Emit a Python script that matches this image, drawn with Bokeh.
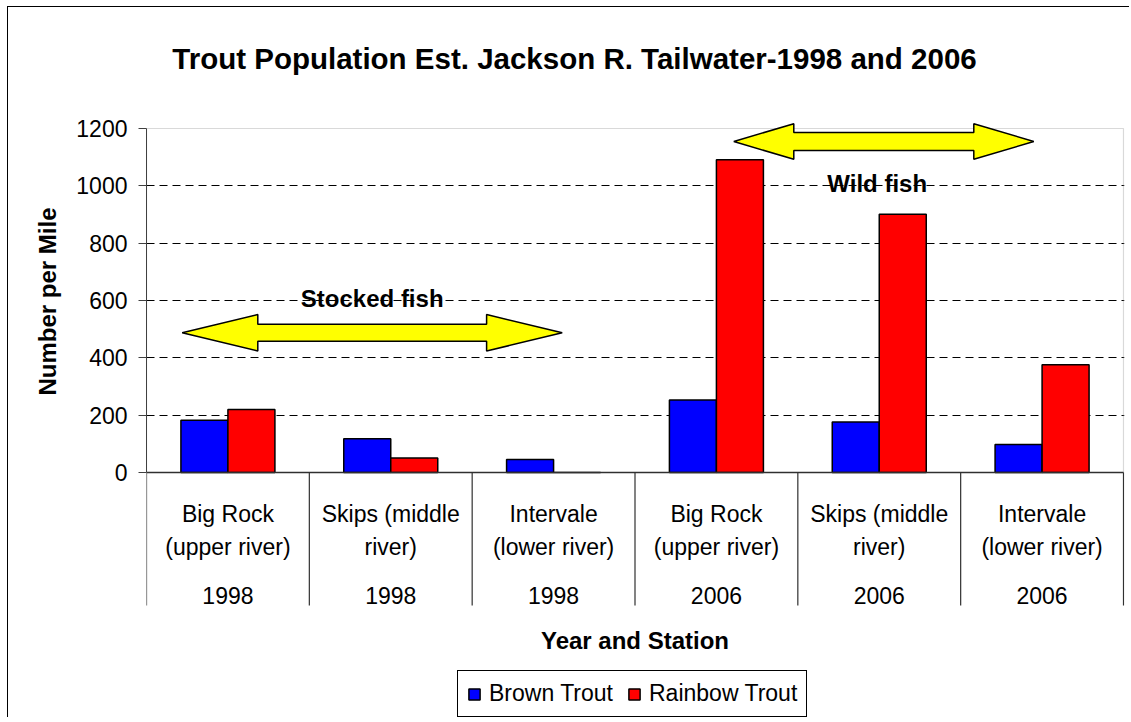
from bokeh.plotting import figure
from bokeh.models import Range1d, FixedTicker, BoxAnnotation, Legend, LegendItem, ColumnDataSource
from bokeh.core.properties import value
from bokeh.embed import file_html
from bokeh.resources import INLINE

# ---- data -------------------------------------------------------------
station_line1 = ["Big Rock", "Skips (middle", "Intervale", "Big Rock", "Skips (middle", "Intervale"]
station_line2 = ["(upper river)", "river)", "(lower river)", "(upper river)", "river)", "(lower river)"]
years = ["1998", "1998", "1998", "2006", "2006", "2006"]
brown_trout = [182, 118, 45, 253, 176, 98]
rainbow_trout = [220, 51, 0, 1091, 901, 376]
y_ticks = [0, 200, 400, 600, 800, 1000, 1200]
grid_ticks = [200, 400, 600, 800, 1000]
y_max = 1200

# ---- page geometry (pixels) ------------------------------------------
W, H = 1131, 722            # page size
OX, OY = 8, 7               # chart canvas starts inside the outer frame line
CANVAS_R, CANVAS_B = 1130, 718
PLOT_L, PLOT_R, PLOT_T, PLOT_B = 146, 1123, 128, 472
FRAME_R = 1124
n_cat = len(years)
x_px = (PLOT_R - PLOT_L) / n_cat      # pixels per category
y_px = (PLOT_B - PLOT_T) / y_max      # pixels per fish/mile


def X(px):
    return (px - PLOT_L) / x_px


def Y(py):
    return (PLOT_B - py) / y_px


FONT = value("Liberation Sans")

p = figure(
    width=CANVAS_R - OX, height=CANVAS_B - OY,
    x_range=Range1d(0, X(FRAME_R)),
    y_range=Range1d(Y(CANVAS_B), Y(OY)),
    x_axis_type=None,
    output_backend="svg", toolbar_location=None,
    min_border_left=PLOT_L - OX, min_border_right=CANVAS_R - FRAME_R,
    min_border_top=0, min_border_bottom=0,
    outline_line_color=None,
    background_fill_color="white", border_fill_color="white",
)
# outer chart frame line along the top and left edges
p.styles = {
    "vertical-align": "top",
    "margin-left": f"{OX}px", "margin-top": f"{OY}px",
    "box-shadow": "-1px -1px 0 0 black",
}
p.xgrid.visible = False

# ---- y axis ----------------------------------------------------------
ax = p.yaxis[0]
ax.bounds = (0, y_max)
ax.ticker = FixedTicker(ticks=y_ticks)
ax.minor_tick_line_color = None
ax.major_tick_in = 0
ax.major_tick_out = 8
ax.major_tick_line_color = "#404040"
ax.axis_line_color = "#404040"
ax.major_label_standoff = 11
ax.major_label_text_font = "Liberation Sans"
ax.major_label_text_font_size = "23px"
ax.major_label_text_color = "black"

# y axis title, placed along the 0..1200 span rather than the whole frame
p.title_location = "left"
p.title.text = "Number per Mile"
p.title.align = "left"
p.title.text_font = "Liberation Sans"
p.title.text_font_style = "bold"
p.title.text_font_size = "24px"
p.title.text_color = "black"
p.title.standoff = 26
p.title.offset = CANVAS_B - 395

p.ygrid.ticker = FixedTicker(ticks=grid_ticks)
p.ygrid.grid_line_color = "black"
p.ygrid.grid_line_dash = "8 5"
p.ygrid.grid_line_width = 1

# plot-area border
p.add_layout(BoxAnnotation(left=0, right=n_cat, bottom=0, top=y_max,
                           fill_color=None, fill_alpha=0,
                           line_color="#808080", line_width=1.2, level="underlay"))

# ---- bars ------------------------------------------------------------
centers = [i + 0.5 for i in range(n_cat)]
bar_w = 47 / x_px
src = ColumnDataSource(dict(
    xb=[c - bar_w / 2 for c in centers],
    xr=[c + bar_w / 2 for c in centers],
    brown=brown_trout, rainbow=rainbow_trout,
))
r_brown = p.vbar(x="xb", top="brown", width=bar_w, source=src,
                 fill_color="#0000FF", line_color="black", line_width=1.5)
r_rain = p.vbar(x="xr", top="rainbow", width=bar_w, source=src,
                fill_color="#FF0000", line_color="black", line_width=1.5)

# baseline and category dividers
bounds = list(range(n_cat + 1))
p.segment(x0=[0], x1=[n_cat], y0=[0], y1=[0], line_color="#303030", line_width=1.5)
p.segment(x0=bounds, x1=bounds, y0=[0] * len(bounds), y1=[Y(605)] * len(bounds),
          line_color="#303030", line_width=1.2)

# category labels
lab = ColumnDataSource(dict(x=centers, l1=station_line1, l2=station_line2, yr=years))
common = dict(source=lab, text_font=FONT, text_font_size="23px", text_color="black",
              text_align="center", text_baseline="alphabetic")
p.text(x="x", y=Y(513), text="l1", **common)
p.text(x="x", y=Y(546), text="l2", **common)
p.text(x="x", y=Y(595), text="yr", **common)

# ---- arrows ----------------------------------------------------------
def double_arrow(x0, x1, yc, head_len, head_half, shaft_half):
    xs_px = [x0, x0 + head_len, x0 + head_len, x1 - head_len, x1 - head_len, x1,
             x1 - head_len, x1 - head_len, x0 + head_len, x0 + head_len]
    ys_px = [yc, yc - head_half, yc - shaft_half, yc - shaft_half, yc - head_half, yc,
             yc + head_half, yc + shaft_half, yc + shaft_half, yc + head_half]
    return [X(v) for v in xs_px], [Y(v) for v in ys_px]


ax1, ay1 = double_arrow(181.7, 561.7, 332.3, 75.6, 18.2, 8.5)
ax2, ay2 = double_arrow(733.3, 1033.3, 141.0, 60.0, 17.8, 9.0)
p.patches(xs=[ax1, ax2], ys=[ay1, ay2], fill_color="#FFFF00",
          line_color="black", line_width=1.5)

bold = dict(text_font=FONT, text_font_style="bold", text_color="black",
            text_align="center", text_baseline="alphabetic")
p.text(x=[X(371.7)], y=[Y(298.3)], text=["Stocked fish"], text_font_size="24px", **bold)
p.text(x=[X(876.7)], y=[Y(183.3)], text=["Wild fish"], text_font_size="24px", **bold)
p.text(x=[X(634.5)], y=[Y(640)], text=["Year and Station"], text_font_size="24px", **bold)
p.text(x=[X(574)], y=[Y(57.7)], text=["Trout Population Est. Jackson R. Tailwater-1998 and 2006"],
       text_font_size="29.5px", **bold)

# ---- legend ----------------------------------------------------------
legend = Legend(
    items=[LegendItem(label="Brown Trout", renderers=[r_brown]),
           LegendItem(label="Rainbow Trout", renderers=[r_rain])],
    orientation="horizontal",
    location=(457 - PLOT_L, 1),
    margin=0, padding=9, spacing=14,
    glyph_width=14, glyph_height=14, label_standoff=8,
    label_text_font="Liberation Sans", label_text_font_size="23px",
    label_text_color="black",
    border_line_color="black", border_line_width=1, border_line_alpha=1,
    background_fill_color="white", background_fill_alpha=1,
)
p.add_layout(legend)

open("out.html", "w").write(file_html(p, INLINE))
